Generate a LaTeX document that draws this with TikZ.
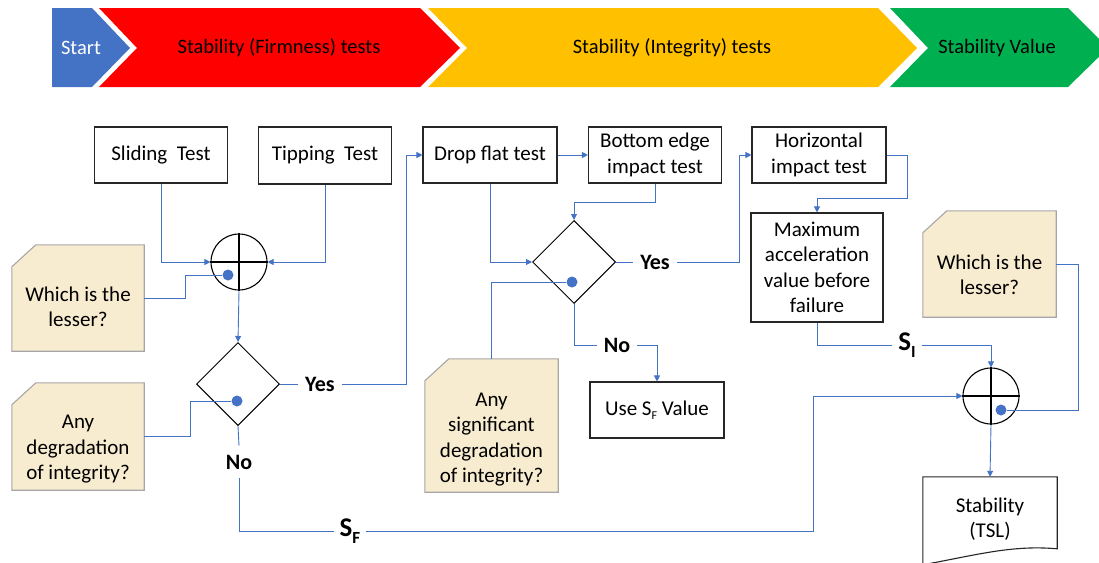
\documentclass[tikz,border=0pt]{standalone}
\usepackage{fontspec}
\setmainfont{Carlito}
\usetikzlibrary{shapes.geometric,arrows.meta,calc}

\definecolor{conn}{HTML}{4472C4}
\definecolor{chevblue}{HTML}{4472C4}
\definecolor{chevred}{HTML}{FF0000}
\definecolor{chevyellow}{HTML}{FFC000}
\definecolor{chevgreen}{HTML}{00B050}
\definecolor{notefill}{HTML}{F8ECD0}
\definecolor{noteedge}{HTML}{A6A6A6}

\newcommand{\bodyfont}{\fontsize{21}{25.5}\selectfont}
\newcommand{\subS}[1]{\raisebox{-4pt}{\fontsize{12}{12}\selectfont #1}}
\newcommand{\bigS}[1]{{\fontsize{27}{30}\selectfont\bfseries S\raisebox{-7pt}{\fontsize{17}{17}\selectfont\bfseries #1}}}

\tikzset{
  chev/.style={draw=none},
  bannertext/.style={font=\fontsize{20.5}{24}\selectfont, inner sep=0pt},
  testbox/.style={draw=black!85, line width=1.1pt, fill=white, align=center,
    font=\bodyfont, inner sep=0pt},
  sumjunction/.style={circle, draw=black, line width=1.1pt, minimum size=56pt, inner sep=0pt},
  decision/.style={diamond, draw=black, line width=1pt, minimum width=83pt,
    minimum height=83pt, inner sep=0pt},
  notebase/.style={draw=none, inner sep=0pt},
  noteshape/.style={fill=notefill, draw=noteedge, line width=1.1pt},
  notetext/.style={align=center, font=\bodyfont, inner sep=0pt},
  dot/.style={circle, fill=conn, draw=none, minimum size=11pt, inner sep=0pt},
  flowlabel/.style={fill=white, inner xsep=7pt, inner ysep=9pt,
    font=\fontsize{22}{24}\selectfont\bfseries},
  valuelabel/.style={fill=white, inner xsep=6pt, inner ysep=4pt},
  link/.style={draw=conn, line width=0.9pt},
  arrowlink/.style={link, -{Triangle[length=6pt,width=6pt]}},
}

\begin{document}
\begin{tikzpicture}[x=1pt,y=-1pt]
\useasboundingbox (0,0) rectangle (1099,562);
\clip (0,0) rectangle (1099,562);

% ---- process banner ----
\fill[chevblue]   (52,8) -- (92,8) -- (130,48) -- (92,87) -- (52,87) -- cycle;
\fill[chevred]    (99,8) -- (420,8) -- (460,48) -- (420,87) -- (99,87) -- (137,48) -- cycle;
\fill[chevyellow] (428,8) -- (878,8) -- (917,48) -- (878,87) -- (428,87) -- (467,48) -- cycle;
\fill[chevgreen]  (890,8) -- (1068,8) -- (1108,48) -- (1068,87) -- (890,87) -- (928,48) -- cycle;
\node[bannertext, text=white] (bstart) at (81,48) {Start};
\node[bannertext] (bfirm)  at (279,48) {Stability (Firmness) tests};
\node[bannertext] (binteg) at (672,48) {Stability (Integrity) tests};
\node[bannertext] (bvalue) at (997,48) {Stability Value};

% ---- test boxes ----
\node[testbox, minimum width=133pt, minimum height=56pt] (slide) at (161,155) {Sliding\ \ Test};
\node[testbox, minimum width=133pt, minimum height=57pt] (tip)   at (325,155.5) {Tipping\ \ Test};
\node[testbox, minimum width=134pt, minimum height=56pt] (drop)  at (490,155) {Drop flat test};
\node[testbox, minimum width=133pt, minimum height=56pt] (edge)  at (655,155) {Bottom edge\\impact test};
\node[testbox, minimum width=134pt, minimum height=56pt] (horiz) at (819,155) {Horizontal\\impact test};
\node[testbox, minimum width=132pt, minimum height=109pt] (maxacc) at (817,267.5)
  {Maximum\\acceleration\\value before\\failure};
\node[testbox, minimum width=134pt, minimum height=56pt] (usesf) at (657,410)
  {Use S\subS{F} Value};

% ---- junctions and decisions ----
\node[sumjunction] (c1) at (239,262) {};
\draw[line width=1.1pt] (c1.north) -- (c1.south) (c1.west) -- (c1.east);
\node[sumjunction] (c2) at (991,396) {};
\draw[line width=1.1pt] (c2.north) -- (c2.south) (c2.west) -- (c2.east);
\node[decision] (d1) at (238,384) {};
\node[decision] (d2) at (574,262) {};

% ---- notes ----
\node[notebase, minimum width=132pt, minimum height=106pt] (n1) at (78,298) {};
\node[notebase, minimum width=132pt, minimum height=107pt] (n2) at (78,436.5) {};
\node[notebase, minimum width=133pt, minimum height=133pt] (n3) at (491.5,425.5) {};
\node[notebase, minimum width=133pt, minimum height=106pt] (n4) at (989.5,264) {};
\foreach \n in {n1,n2,n3,n4}
  \filldraw[noteshape] ($(\n.north west)+(0,22)$) -- ($(\n.north west)+(24,0)$)
    -- (\n.north east) -- (\n.south east) -- (\n.south west) -- cycle;
\node[notetext] (n1t) at ($(n1.center)+(0,9)$) {Which is the\\lesser?};
\node[notetext] (n2t) at ($(n2.center)+(0,13)$) {Any\\degradation\\of integrity?};
\node[notetext] (n3t) at ($(n3.center)+(0,14)$) {Any\\significant\\degradation\\of integrity?};
\node[notetext] (n4t) at ($(n4.center)+(0,11)$) {Which is the\\lesser?};

% ---- output document ----
\node[notebase, minimum width=134pt, minimum height=86pt] (doc) at (990,520) {};
\draw[line width=1.1pt, draw=black!85, fill=white] (doc.north west) -- (doc.north east)
  -- ($(doc.north east)+(0,72)$)
  .. controls ($(doc.north east)+(-45,-4+72)$) and ($(doc.north east)+(-80,6+72)$)
  .. ($(doc.north west)+(0,88)$) -- cycle;
\node[notetext] (doct) at (990,519) {Stability\\(TSL)};

% ---- selector dots ----
\node[dot] (dot1) at (228,275) {};
\node[dot] (dot2) at (237,401) {};
\node[dot] (dot3) at (572,282) {};
\node[dot] (dot4) at (1001,410) {};

% ---- branch labels ----
\node[flowlabel] (yes1) at (320,384) {Yes};
\node[flowlabel] (no1)  at (239,462) {No};
\node[flowlabel] (yes2) at (655,262) {Yes};
\node[flowlabel] (no2)  at (617,345) {No};
\node[valuelabel] (sf) at (350,531) {\bigS{F}};
\node[valuelabel] (si) at (907,345) {\bigS{I}};

\coordinate (j1) at (406,384);
\coordinate (j2) at (813,531);
\coordinate (j3) at (739,262);
\coordinate (j4) at (907,198);
\coordinate (j5) at (1078,264);

% ---- connectors: firmness stage ----
\draw[arrowlink] (slide.south) |- (c1.west);
\draw[arrowlink] (tip.south) |- (c1.east);
\draw[arrowlink] (c1.south) -- (d1.north);
\draw[link] (n1.east) -- ++(41,0) |- (dot1);
\draw[link] (n2.east) -- ++(46,0) |- (dot2);
\draw[link] (d1.east) -- (yes1.west);
\draw[arrowlink] (yes1.east) -- (j1) |- (drop.west);
\draw[link] (d1.south) -- (no1.north);
\draw[link] (no1.south) |- (sf.west);
\draw[arrowlink] (sf.east) -- (j2) |- (c2.west);

% ---- connectors: integrity stage ----
\draw[arrowlink] (drop.east) -- (edge.west);
\draw[arrowlink] (drop.south) |- (d2.west);
\draw[arrowlink] (edge.south) -- ++(0,19) -| (d2.north);
\draw[link] (n3.north) |- (dot3);
\draw[link] (d2.east) -- (yes2.west);
\draw[arrowlink] (yes2.east) -- (j3) |- (horiz.west);
\draw[link] (d2.south) |- (no2.west);
\draw[arrowlink] (no2.east) -| (usesf.north);
\draw[arrowlink] (horiz.east) -| (j4) -| (maxacc.north);

% ---- connectors: stability value ----
\draw[link] (maxacc.south) |- (si.west);
\draw[arrowlink] (si.east) -| (c2.north);
\draw[link] (n4.east) -- (j5) |- (dot4);
\draw[arrowlink] (c2.south) -- (doc.north);
\end{tikzpicture}
\end{document}
